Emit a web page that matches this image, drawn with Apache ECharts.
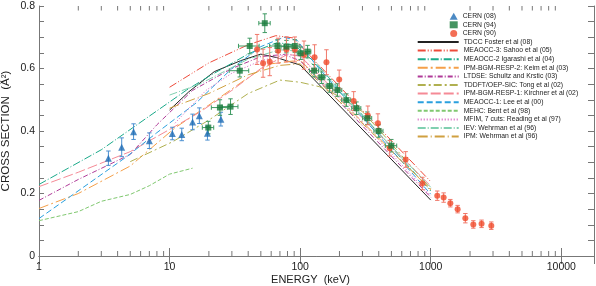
<!DOCTYPE html>
<html><head><meta charset="utf-8">
<script src="https://cdn.jsdelivr.net/npm/echarts@6/dist/echarts.min.js"></script>
<style>html,body{margin:0;padding:0;background:#fff}#c{width:596px;height:286px}</style>
</head><body><div id="c"></div>
<script>
// ---- Experimental data (energy keV, cross section Å^2, y-error) ----
const cern08E   = [3.4, 4.3, 5.3, 7.0, 10.5, 12.4, 15.0, 16.9, 19.5, 24.7];
const cern08Y   = [0.313, 0.348, 0.398, 0.369, 0.392, 0.389, 0.429, 0.449, 0.393, 0.438];
const cern08Err = [0.023, 0.030, 0.025, 0.025, 0.020, 0.020, 0.025, 0.025, 0.022, 0.022];

const cern94E    = [19.8, 24.3, 29.3, 34.5, 41.1, 53.6, 67, 78.5, 91, 101, 114, 128, 146, 168, 193, 226, 270, 327, 399, 499];
const cern94Y    = [0.411, 0.475, 0.478, 0.593, 0.672, 0.745, 0.672, 0.670, 0.672, 0.649, 0.654, 0.593, 0.572, 0.544, 0.531, 0.499, 0.473, 0.441, 0.400, 0.353];
const cern94Err  = [0.020, 0.025, 0.025, 0.020, 0.025, 0.030, 0.020, 0.020, 0.020, 0.020, 0.020, 0.020, 0.020, 0.020, 0.020, 0.020, 0.020, 0.020, 0.020, 0.020];
const cern94XErr = [0.10, 0.14, 0.14, 0.17, 0.18, 0.10, 0.13, 0.09, 0.08, 0.06, 0.06, 0.08, 0.06, 0.06, 0.08, 0.08, 0.08, 0.08, 0.08, 0.10];

const cern90E   = [46.8, 52, 58.5, 67.8, 78.5, 91, 107, 129, 159, 199, 257, 330, 394, 485, 643, 863, 1122, 1256, 1413, 1607, 1841, 2119, 2451, 2910];
const cern90Y   = [0.661, 0.617, 0.622, 0.657, 0.661, 0.661, 0.643, 0.636, 0.620, 0.565, 0.496, 0.450, 0.425, 0.345, 0.309, 0.232, 0.193, 0.187, 0.169, 0.150, 0.121, 0.101, 0.103, 0.097];
const cern90Err = [0.048, 0.045, 0.045, 0.040, 0.040, 0.040, 0.045, 0.040, 0.040, 0.030, 0.030, 0.030, 0.030, 0.025, 0.025, 0.020, 0.015, 0.015, 0.012, 0.012, 0.015, 0.012, 0.012, 0.012];

// ---- Theory curves [energy keV, cross section] ----
const tdcc     = [[10,0.467],[14,0.525],[22,0.59],[35,0.625],[50,0.646],[66,0.635],[100,0.611],[1000,0.179]];
const sahoo    = [[10,0.54],[20,0.618],[40,0.676],[65,0.705],[88,0.698],[1000,0.238]];
const igarashi = [[1,0.229],[3,0.34],[13.5,0.531],[20,0.575],[41,0.649],[67,0.683],[90,0.675],[130,0.62],[1000,0.208]];
const keim     = [[1,0.152],[2,0.2],[5,0.288],[11,0.41],[20,0.483],[43,0.58],[60,0.615],[100,0.627],[1000,0.212]];
const schultz  = [[1,0.178],[2,0.245],[5,0.325],[8,0.42],[15,0.53],[30,0.60],[50,0.638],[75,0.645],[100,0.625],[1000,0.188]];
const tong     = [[5,0.302],[10.6,0.366],[20,0.435],[40,0.52],[70,0.563],[100,0.556],[140,0.542],[200,0.51],[300,0.462],[400,0.405],[1000,0.216]];
const kirchner = [[1,0.222],[2,0.268],[5,0.334],[10,0.405],[17,0.46],[30,0.53],[50,0.60],[80,0.645],[100,0.64],[1000,0.224]];
const lee      = [[1,0.12],[1.73,0.19],[4.7,0.318],[7.9,0.393],[16,0.49],[30,0.60],[50,0.67],[75,0.70],[95,0.69],[130,0.615],[1000,0.198]];
const bent     = [[1,0.113],[2,0.142],[3,0.175],[5,0.197],[7,0.225],[10,0.262],[15,0.281]];
const reading  = [[11,0.425],[19,0.53],[30,0.585],[50,0.625],[80,0.645],[100,0.64],[1000,0.193]];
const iev      = [[10,0.515],[17,0.55],[40,0.63],[70,0.66],[100,0.655],[1000,0.22]];
const ipm      = [[10,0.473],[20,0.52],[40,0.58],[70,0.61],[100,0.615],[1000,0.214]];

// ---- Axis tick values ----
const xMinorTicks = [2,3,4,5,6,7,8,9,20,30,40,50,60,70,80,90,200,300,400,500,600,700,800,900,2000,3000,4000,5000,6000,7000,8000,9000];

const FONT = '"Liberation Sans", Arial, sans-serif';
const AX = '#777';

function zip(e, y, err, xe) { return e.map((v, i) => [v, y[i], err[i], xe ? xe[i] : 0]); }

function errRender(color) {
  return function (params, api) {
    const x = api.value(0), y = api.value(1), e = api.value(2), xf = api.value(3);
    const t = api.coord([x, y + e]), b = api.coord([x, y - e]);
    const cw = 2.2;
    const st = { stroke: color, lineWidth: 1 };
    const ch = [
      { type: 'line', shape: { x1: t[0], y1: t[1], x2: b[0], y2: b[1] }, style: st },
      { type: 'line', shape: { x1: t[0] - cw, y1: t[1], x2: t[0] + cw, y2: t[1] }, style: st },
      { type: 'line', shape: { x1: b[0] - cw, y1: b[1], x2: b[0] + cw, y2: b[1] }, style: st }
    ];
    if (xf > 0) {
      const l = api.coord([x * (1 - xf), y]), r = api.coord([x * (1 + xf), y]);
      ch.push({ type: 'line', shape: { x1: l[0], y1: l[1], x2: r[0], y2: r[1] }, style: st });
      ch.push({ type: 'line', shape: { x1: l[0], y1: l[1] - cw, x2: l[0], y2: l[1] + cw }, style: st });
      ch.push({ type: 'line', shape: { x1: r[0], y1: r[1] - cw, x2: r[0], y2: r[1] + cw }, style: st });
    }
    return { type: 'group', children: ch };
  };
}

const curves = [
  ['TDCC Foster et al (08)', tdcc, '#222222', 'solid'],
  ['MEAOCC-3: Sahoo et al (05)', sahoo, '#ee4a3a', [8, 2, 1, 2, 1, 2]],
  ['MEAOCC-2 Igarashi et al (04)', igarashi, '#1aaa8a', [8, 2, 1, 2]],
  ['IPM-BGM-RESP-2: Keim et al (03)', keim, '#f5a04a', [10, 3, 2, 3]],
  ['LTDSE: Schultz and Krstic (03)', schultz, '#b03a98', [5, 2, 1, 2]],
  ['TDDFT/OEP-SIC: Tong et al (02)', tong, '#b0b050', [8, 3, 2, 3]],
  ['IPM-BGM-RESP-1: Kirchner et al (02)', kirchner, '#f58a96', [10, 3]],
  ['MEAOCC-1: Lee et al (00)', lee, '#2aa0de', [6, 3]],
  ['MEHC: Bent et al (98)', bent, '#80c870', [4, 2]],
  ['MFIM, 7 cuts: Reading et al (97)', reading, '#d860c0', [1, 2]],
  ['IEV: Wehrman et al (96)', iev, '#80d0b0', [8, 2, 1, 2]],
  ['IPM: Wehrman et al (96)', ipm, '#d0a040', [10, 3, 1, 3]]
];

const series = [];
curves.forEach(c => series.push({
  type: 'line', name: c[0], data: c[1], showSymbol: false, symbol: 'none', z: 2,
  lineStyle: { color: c[2], width: 1, type: c[3] }, itemStyle: { color: c[2] }, animation: false
}));

series.push({ type: 'custom', name: 'e08', data: zip(cern08E, cern08Y, cern08Err), renderItem: errRender('#4a8fd0'), encode: { x: 0, y: 1 }, z: 5, animation: false, silent: true });
series.push({ type: 'custom', name: 'e94', data: zip(cern94E, cern94Y, cern94Err, cern94XErr), renderItem: errRender('#3f9a63'), encode: { x: 0, y: 1 }, z: 5, animation: false, silent: true });
series.push({ type: 'custom', name: 'e90', data: zip(cern90E, cern90Y, cern90Err), renderItem: errRender('#f0786a'), encode: { x: 0, y: 1 }, z: 5, animation: false, silent: true });

series.push({ type: 'scatter', name: 'CERN (08)', data: cern08E.map((v, i) => [v, cern08Y[i]]), symbol: 'triangle', symbolSize: 7, itemStyle: { color: '#1f6db5' }, z: 6, animation: false });
series.push({ type: 'scatter', name: 'CERN (94)', data: cern94E.map((v, i) => [v, cern94Y[i]]), symbol: 'rect', symbolSize: 6, itemStyle: { color: '#17793a' }, z: 7, animation: false });
series.push({ type: 'scatter', name: 'CERN (90)', data: cern90E.map((v, i) => [v, cern90Y[i]]), symbol: 'circle', symbolSize: 6, itemStyle: { color: '#f04a2a' }, z: 6, animation: false });

// minor log ticks (bottom & top)
series.push({
  type: 'custom', name: 'minorTicks', data: xMinorTicks.map(v => [v, 0]), encode: { x: 0, y: 1 }, silent: true, animation: false, z: 1,
  renderItem: function (params, api) {
    const v = api.value(0);
    const b = api.coord([v, 0]), t = api.coord([v, 0.8]);
    const st = { stroke: AX, lineWidth: 1 };
    return { type: 'group', children: [
      { type: 'line', shape: { x1: b[0], y1: b[1], x2: b[0], y2: b[1] - 5 }, style: st },
      { type: 'line', shape: { x1: t[0], y1: t[1], x2: t[0], y2: t[1] + 4.5 }, style: st }
    ] };
  }
});

function decadeLabel(v) {
  const l = Math.log10(v);
  return Math.abs(l - Math.round(l)) < 1e-6 ? String(Math.round(v)) : '';
}

const chart = echarts.init(document.getElementById('c'), null, { renderer: 'canvas' });
const xCommon = { type: 'log', logBase: 10, min: 1, max: 17800, splitLine: { show: false }, axisLine: { lineStyle: { color: AX } } };
chart.setOption({
  animation: false,
  backgroundColor: '#fff',
  grid: { left: 39, right: 2, top: 6, bottom: 30, containLabel: false, outerBoundsMode: 'none' },
  legend: [
    { data: ['CERN (08)', 'CERN (94)', 'CERN (90)'], orient: 'vertical', left: 444.7, top: 7.7, itemWidth: 8, itemHeight: 7, itemGap: 1.6,
      textStyle: { fontFamily: FONT, fontSize: 6.8, color: '#222' } },
    { data: curves.map(c => c[0]), orient: 'vertical', left: 411.7, top: 33.5, itemWidth: 41, itemHeight: 7, itemGap: 1.6,
      lineStyle: { width: 2 }, itemStyle: { opacity: 0 }, textStyle: { fontFamily: FONT, fontSize: 6.8, color: '#222' } }
  ],
  xAxis: [
    Object.assign({}, xCommon, { position: 'bottom', name: 'ENERGY  (keV)', nameLocation: 'middle', nameGap: 18, nameMoveOverlap: false,
      nameTextStyle: { fontFamily: FONT, fontSize: 11, color: '#222', padding: [0, 12, 0, 0] },
      axisTick: { inside: true, length: 8, lineStyle: { color: AX } },
      axisLabel: { fontFamily: FONT, fontSize: 10.5, color: '#222', margin: 6, showMaxLabel: false, formatter: decadeLabel } }),
    Object.assign({}, xCommon, { position: 'top', axisTick: { inside: true, length: 8, lineStyle: { color: AX } }, axisLabel: { show: false } })
  ],
  yAxis: [
    { type: 'value', min: 0, max: 0.8, interval: 0.2, position: 'left', splitLine: { show: false },
      name: 'CROSS SECTION  (Å²)', nameLocation: 'middle', nameGap: 27, nameMoveOverlap: false,
      nameTextStyle: { fontFamily: FONT, fontSize: 11.5, color: '#222' },
      axisLine: { show: true, lineStyle: { color: AX } },
      axisTick: { show: true, inside: true, length: 5, lineStyle: { color: AX } },
      minorTick: { show: true, splitNumber: 4, length: 5, lineStyle: { color: AX } },
      axisLabel: { fontFamily: FONT, fontSize: 10.5, color: '#222', margin: 4, formatter: v => (v === 0 ? '0' : v.toFixed(1)) } },
    { type: 'value', min: 0, max: 0.8, interval: 0.2, position: 'right', splitLine: { show: false },
      axisLine: { show: true, lineStyle: { color: AX } },
      axisTick: { show: true, inside: true, length: 6, lineStyle: { color: AX } },
      minorTick: { show: true, splitNumber: 4, length: 6, lineStyle: { color: AX } },
      axisLabel: { show: false } }
  ],
  series: series
});
</script></body></html>
